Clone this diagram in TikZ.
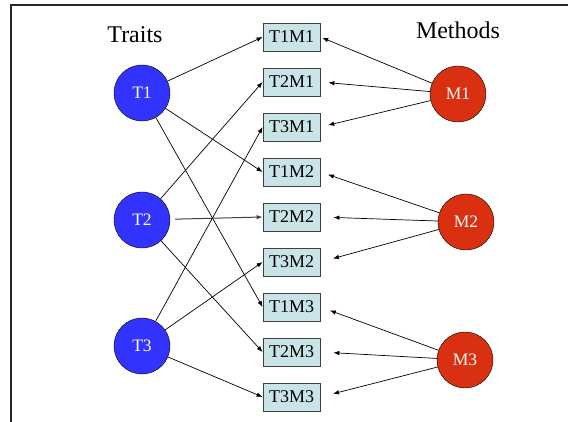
\documentclass[tikz,border=0pt]{standalone}
\usepackage{fontspec}
\setmainfont{Liberation Serif}
\usetikzlibrary{arrows.meta, positioning}
\definecolor{traitblue}{RGB}{51,51,255}
\definecolor{methodred}{RGB}{216,48,16}
\definecolor{cellfill}{RGB}{200,228,230}
\tikzstyle{line} = [draw, -{Latex[length=6pt,width=4.5pt]}, line width=0.7pt]
\tikzstyle{trait} = [circle, draw, fill=traitblue, text=white,
  minimum size=56pt, inner sep=0pt, font=\fontsize{17.5}{20}\selectfont]
\tikzstyle{method} = [circle, draw, fill=methodred, text=white,
  minimum size=56pt, inner sep=0pt, font=\fontsize{17.5}{20}\selectfont]
\tikzstyle{cell} = [rectangle, draw=black!75, fill=cellfill, line width=0.8pt,
  minimum width=57pt, minimum height=28pt, inner sep=0pt, font=\fontsize{18}{20}\selectfont]
\tikzstyle{heading} = [font=\fontsize{24}{28}\selectfont]

\begin{document}
\begin{tikzpicture}[x=1pt, y=-1pt, node distance=45pt, auto]
    \useasboundingbox (0,0) rectangle (568,422);
    \draw [line width=1.5pt, black!85] (568,5) -- (11,5) -- (11,422);

    \node [heading] (traits) at (135,35) {Traits};
    \node [heading] (methods) at (458,30) {Methods};

    \node [cell] (T1M1) at (291.5,37) {T1M1};
    \node [cell, below of=T1M1] (T2M1) {T2M1};
    \node [cell, below of=T2M1] (T3M1) {T3M1};
    \node [cell, below of=T3M1] (T1M2) {T1M2};
    \node [cell, below of=T1M2] (T2M2) {T2M2};
    \node [cell, below of=T2M2] (T3M2) {T3M2};
    \node [cell, below of=T3M2] (T1M3) {T1M3};
    \node [cell, below of=T1M3] (T2M3) {T2M3};
    \node [cell, below of=T2M3] (T3M3) {T3M3};

    \node [trait] (T1) at (142,93) {T1};
    \node [trait] (T2) at (142,220) {T2};
    \node [trait] (T3) at (142,346) {T3};

    \node [method] (M1) at (458,94) {M1};
    \node [method] (M2) at (466,222) {M2};
    \node [method] (M3) at (465,360) {M3};

    \path [line] (T1) -- (T1M1.west);
    \path [line] (T1) -- (T1M2.west);
    \path [line] (T1) -- (T1M3.west);
    \path [line] (T2) -- (T2M1.west);
    \path [line, black!75, line width=1pt, shorten <=5pt] (T2) -- (T2M2.west);
    \path [line] (T2) -- (T2M3.west);
    \path [line] (T3) -- (T3M1.west);
    \path [line] (T3) -- (T3M2.west);
    \path [line] (T3) -- (T3M3.west);

    \path [line, shorten >=2pt] (M1) -- (T1M1.east);
    \path [line, shorten >=8pt] (M1) -- (T2M1.east);
    \path [line, shorten >=8pt] (M1) -- (T3M1.east);
    \path [line, shorten >=8pt] (M2) -- (T1M2.east);
    \path [line, shorten >=13pt] (M2) -- (T2M2.east);
    \path [line, shorten >=13pt] (M2) -- (T3M2.east);
    \path [line, shorten >=10pt] (M3) -- (T1M3.east);
    \path [line, shorten >=13pt] (M3) -- (T2M3.east);
    \path [line, shorten >=13pt] (M3) -- (T3M3.east);
  \end{tikzpicture}
\end{document}
